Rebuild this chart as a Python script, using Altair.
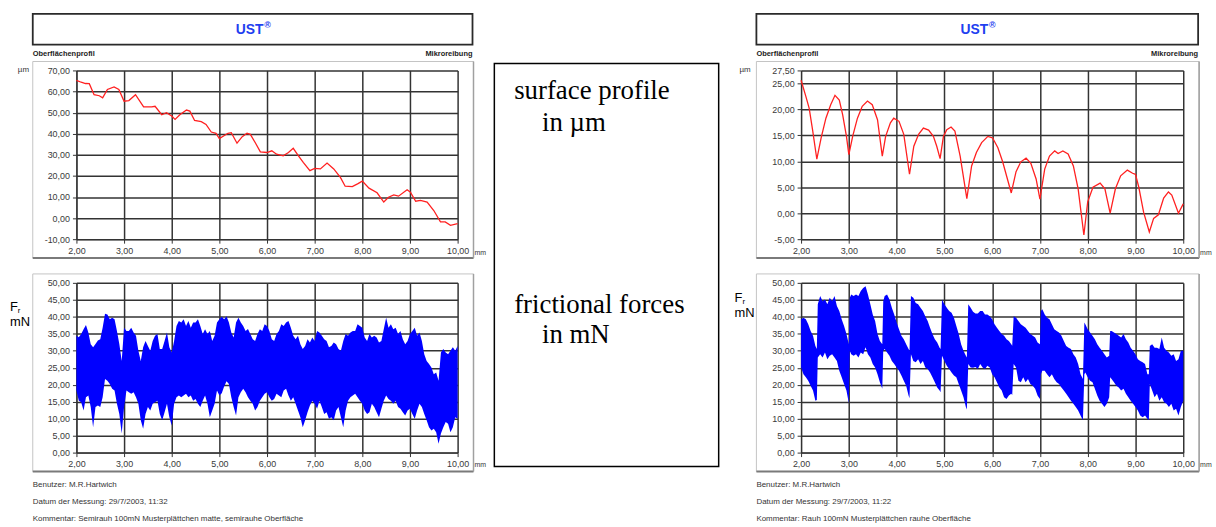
import altair as alt
import pandas as pd

# ---------------- data ----------------
X_TICKS = [2, 3, 4, 5, 6, 7, 8, 9, 10]
LP_TICKS = [-10, 0, 10, 20, 30, 40, 50, 60, 70]
RP_TICKS = [-5, 0, 5, 10, 15, 20, 25, 27.5]
F_TICKS = [0, 5, 10, 15, 20, 25, 30, 35, 40, 45, 50]

# left surface profile (µm)
LP_X = [2.00, 2.10, 2.19, 2.27, 2.37, 2.48, 2.55, 2.65, 2.79, 2.89,
        3.00, 3.10, 3.24, 3.41, 3.58, 3.65, 3.79, 3.89,
        4.00, 4.07, 4.17, 4.31, 4.38, 4.48, 4.62, 4.72, 4.83, 4.93,
        5.00, 5.18, 5.25, 5.37, 5.48, 5.58, 5.65, 5.76, 5.86,
        6.00, 6.10, 6.20, 6.34, 6.45, 6.55, 6.66, 6.76, 6.90,
        7.00, 7.12, 7.26, 7.40, 7.54, 7.64, 7.79, 7.90,
        8.00, 8.14, 8.31, 8.45, 8.55, 8.66, 8.76, 8.94,
        9.01, 9.12, 9.22, 9.36, 9.50, 9.64, 9.74, 9.85, 10.00]
LP_Y = [65.3, 64.4, 63.8, 63.7, 58.5, 58.0, 57.0, 61.0, 62.2, 61.0,
        55.4, 55.7, 58.5, 52.7, 52.7, 53.0, 49.0, 50.0,
        48.4, 46.8, 49.0, 51.2, 50.7, 46.3, 45.7, 44.4, 40.8, 40.2,
        37.7, 40.2, 40.5, 35.5, 38.6, 40.2, 39.7, 35.5, 31.4,
        31.1, 31.9, 30.3, 29.5, 31.1, 33.1, 29.5, 26.4, 22.5,
        23.6, 23.3, 26.1, 23.3, 19.3, 15.1, 14.9, 16.2,
        17.5, 14.2, 12.0, 7.6, 9.9, 11.0, 10.4, 13.4,
        12.3, 8.0, 8.4, 7.6, 3.6, -1.8, -1.8, -3.4, -2.6]

# right surface profile (µm)
RP_X = [2.00, 2.10, 2.17, 2.24, 2.33, 2.42, 2.52, 2.62, 2.71, 2.80, 2.87, 2.95,
        3.00, 3.08, 3.18, 3.28, 3.39, 3.49, 3.60, 3.70, 3.77, 3.87, 3.94,
        4.05, 4.15, 4.27, 4.36, 4.46, 4.56, 4.67, 4.77, 4.84, 4.91, 4.98,
        5.05, 5.14, 5.22, 5.33, 5.47, 5.57, 5.67, 5.78, 5.91,
        6.01, 6.12, 6.22, 6.40, 6.50, 6.60, 6.71, 6.81, 6.92,
        7.00, 7.10, 7.20, 7.31, 7.38, 7.48, 7.59, 7.70, 7.80, 7.92,
        8.00, 8.11, 8.26, 8.36, 8.47, 8.58, 8.69, 8.83, 8.94,
        9.00, 9.07, 9.17, 9.29, 9.38, 9.48, 9.59, 9.69, 9.76, 9.90, 10.00]
RP_Y = [25.6, 22.5, 20.2, 16.1, 10.4, 14.5, 18.3, 20.9, 22.7, 21.8, 19.0, 14.8,
        11.3, 14.8, 18.3, 20.6, 21.6, 20.9, 18.0, 11.0, 14.8, 17.4, 18.3,
        17.7, 15.2, 7.5, 12.9, 15.2, 16.4, 16.0, 14.8, 12.9, 10.5, 14.8,
        16.1, 16.6, 15.8, 11.0, 2.8, 9.1, 11.7, 13.6, 14.8,
        14.5, 12.6, 9.9, 3.9, 8.0, 9.9, 10.6, 9.6, 6.6,
        2.7, 8.5, 11.0, 12.0, 11.5, 12.0, 11.4, 9.1, 4.7, -4.2,
        2.2, 5.0, 5.8, 4.7, 0.0, 4.7, 7.2, 8.3, 7.7,
        7.5, 5.0, 0.2, -3.6, -1.0, -0.3, 2.9, 4.1, 3.5, 0.0, 1.8]

# left frictional force envelope (mN)
LF_X = [2.00, 2.05, 2.10, 2.15, 2.20, 2.25, 2.30, 2.35, 2.40, 2.45,
        2.50, 2.55, 2.60, 2.65, 2.70, 2.75, 2.80, 2.85, 2.90, 2.95,
        3.00, 3.05, 3.10, 3.15, 3.20, 3.25, 3.30, 3.35, 3.40, 3.45,
        3.50, 3.55, 3.60, 3.65, 3.70, 3.75, 3.80, 3.85, 3.90, 3.95,
        4.00, 4.05, 4.10, 4.15, 4.20, 4.25, 4.30, 4.35, 4.40, 4.45,
        4.50, 4.55, 4.60, 4.65, 4.70, 4.75, 4.80, 4.85, 4.90, 4.95,
        5.00, 5.05, 5.10, 5.15, 5.20, 5.25, 5.30, 5.35, 5.40, 5.45,
        5.50, 5.55, 5.60, 5.65, 5.70, 5.75, 5.80, 5.85, 5.90, 5.95,
        6.00, 6.05, 6.10, 6.15, 6.20, 6.25, 6.30, 6.35, 6.40, 6.45,
        6.50, 6.55, 6.60, 6.65, 6.70, 6.75, 6.80, 6.85, 6.90, 6.95,
        7.00, 7.05, 7.10, 7.15, 7.20, 7.25, 7.30, 7.35, 7.40, 7.45,
        7.50, 7.55, 7.60, 7.65, 7.70, 7.75, 7.80, 7.85, 7.90, 7.95,
        8.00, 8.05, 8.10, 8.15, 8.20, 8.25, 8.30, 8.35, 8.40, 8.45,
        8.50, 8.55, 8.60, 8.65, 8.70, 8.75, 8.80, 8.85, 8.90, 8.95,
        9.00, 9.05, 9.10, 9.15, 9.20, 9.25, 9.30, 9.35, 9.40, 9.45,
        9.50, 9.55, 9.60, 9.65, 9.70, 9.75, 9.80, 9.85, 9.90, 9.95,
        10.00]
LF_HI = [34.4, 34.0, 34.9, 36.3, 37.6, 35.4, 31.9, 31.0, 32.0, 33.0,
         33.4, 36.8, 40.9, 40.7, 39.3, 39.7, 39.3, 35.8, 32.0, 27.0,
         36.8, 35.8, 35.8, 36.8, 35.4, 34.4, 30.0, 27.0, 31.0, 32.9,
         31.4, 30.0, 32.9, 34.4, 34.9, 30.5, 30.5, 32.9, 35.4, 31.0,
         29.5, 32.9, 37.3, 38.8, 38.3, 39.3, 37.3, 38.8, 36.8, 38.3,
         38.3, 39.3, 37.3, 34.9, 36.3, 34.9, 35.8, 32.9, 34.4, 38.3,
         39.3, 40.0, 39.3, 40.2, 38.3, 35.4, 33.9, 38.3, 39.7, 38.3,
         37.3, 35.8, 36.4, 34.9, 33.4, 32.9, 34.9, 36.3, 35.8, 37.8,
         37.3, 35.8, 33.4, 32.9, 34.9, 35.8, 37.8, 37.3, 38.3, 38.8,
         36.8, 34.4, 33.4, 34.4, 31.9, 30.5, 31.4, 33.4, 32.4, 33.9,
         32.9, 35.8, 35.4, 34.4, 33.4, 32.9, 31.0, 31.4, 32.4, 31.9,
         30.5, 30.0, 32.9, 34.9, 34.4, 35.4, 35.8, 35.8, 37.8, 37.3,
         36.8, 33.9, 32.9, 34.9, 33.9, 34.4, 33.9, 32.4, 32.9, 36.3,
         39.7, 36.8, 37.8, 36.3, 36.8, 34.9, 35.8, 33.4, 31.9, 32.9,
         34.9, 35.8, 36.8, 34.4, 35.4, 32.9, 29.0, 27.0, 26.1, 25.1,
         23.1, 23.6, 21.2, 29.5, 30.5, 29.5, 29.0, 30.0, 31.0, 30.0,
         31.4]
LF_LO = [18.3, 15.3, 14.8, 12.4, 16.3, 16.8, 13.4, 7.5, 13.4, 13.9,
         13.4, 16.3, 21.7, 21.2, 20.2, 18.8, 18.3, 14.4, 11.4, 5.6,
         13.4, 18.3, 17.8, 17.3, 17.8, 16.3, 14.4, 9.5, 7.0, 11.4,
         13.4, 12.4, 14.4, 14.8, 15.3, 11.4, 9.5, 11.9, 14.4, 10.4,
         8.0, 14.4, 16.3, 16.8, 16.3, 16.8, 17.3, 16.3, 16.8, 15.3,
         15.8, 14.4, 13.4, 15.3, 16.8, 14.4, 10.4, 12.4, 14.4, 18.3,
         16.8, 17.5, 19.5, 21.0, 20.2, 16.3, 13.4, 10.9, 16.3, 17.8,
         18.8, 17.8, 16.3, 15.3, 14.4, 12.4, 13.4, 15.3, 16.3, 17.3,
         17.8, 16.3, 15.3, 15.8, 17.3, 16.8, 16.3, 18.3, 18.8, 16.8,
         15.3, 16.3, 14.4, 12.4, 10.4, 7.5, 9.5, 11.9, 13.9, 15.3,
         14.4, 12.9, 15.3, 13.4, 11.4, 11.9, 10.0, 10.4, 9.5, 12.4,
         13.4, 10.4, 7.5, 12.4, 15.3, 16.3, 16.8, 17.3, 16.3, 15.3,
         14.4, 12.4, 11.4, 11.9, 14.4, 13.4, 11.9, 10.4, 12.9, 15.3,
         16.8, 15.8, 15.3, 14.4, 15.3, 13.4, 12.9, 11.9, 10.9, 12.4,
         12.9, 11.4, 10.0, 12.4, 14.4, 13.4, 11.4, 9.5, 7.5, 6.5,
         7.0, 6.0, 2.6, 5.6, 7.5, 9.0, 8.5, 6.0, 7.5, 10.4,
         10.0]

# right frictional force envelope (mN)
RF_X = [2.00, 2.05, 2.10, 2.15, 2.20, 2.25, 2.30, 2.33, 2.35, 2.40,
        2.45, 2.50, 2.55, 2.60, 2.65, 2.70, 2.75, 2.80, 2.85, 2.90,
        2.95, 3.00, 3.02, 3.05, 3.10, 3.15, 3.20, 3.25, 3.30, 3.35,
        3.40, 3.45, 3.50, 3.55, 3.60, 3.65, 3.70, 3.72, 3.75, 3.80,
        3.85, 3.90, 3.95, 4.00, 4.05, 4.10, 4.15, 4.20, 4.25, 4.27,
        4.30, 4.35, 4.40, 4.45, 4.50, 4.55, 4.60, 4.65, 4.70, 4.75,
        4.80, 4.85, 4.90, 4.92, 4.95, 5.00, 5.05, 5.10, 5.15, 5.20,
        5.25, 5.30, 5.35, 5.40, 5.45, 5.47, 5.50, 5.55, 5.60, 5.65,
        5.70, 5.75, 5.80, 5.85, 5.90, 5.95, 6.00, 6.05, 6.10, 6.15,
        6.20, 6.25, 6.30, 6.35, 6.40, 6.42, 6.45, 6.50, 6.55, 6.60,
        6.65, 6.70, 6.75, 6.80, 6.85, 6.90, 6.95, 7.00, 7.02, 7.05,
        7.10, 7.15, 7.20, 7.25, 7.30, 7.35, 7.40, 7.45, 7.50, 7.55,
        7.60, 7.65, 7.70, 7.75, 7.80, 7.85, 7.90, 7.93, 7.95, 8.00,
        8.05, 8.10, 8.15, 8.20, 8.25, 8.30, 8.35, 8.40, 8.45, 8.47,
        8.50, 8.55, 8.60, 8.65, 8.70, 8.75, 8.80, 8.85, 8.90, 8.95,
        9.00, 9.05, 9.10, 9.15, 9.20, 9.25, 9.28, 9.30, 9.35, 9.40,
        9.45, 9.50, 9.55, 9.60, 9.65, 9.70, 9.75, 9.80, 9.85, 9.90,
        9.95, 10.00]
RF_HI = [39.3, 39.7, 39.3, 37.8, 35.8, 34.4, 31.4, 30.5, 43.7, 46.1,
         44.6, 45.1, 43.7, 45.6, 44.6, 46.1, 43.2, 41.7, 39.3, 37.3,
         34.9, 31.9, 45.6, 46.6, 46.1, 46.6, 46.1, 47.6, 48.5, 49.0,
         46.6, 43.7, 40.7, 38.8, 34.9, 32.9, 31.9, 44.6, 46.1, 46.6,
         45.1, 42.7, 40.7, 38.3, 36.3, 34.4, 33.4, 31.9, 30.5, 30.0,
         46.1, 45.6, 44.1, 43.7, 42.7, 41.7, 40.2, 38.8, 36.8, 34.9,
         33.4, 32.4, 30.9, 30.5, 45.1, 43.7, 42.7, 41.7, 41.2, 39.7,
         37.3, 34.9, 31.9, 30.0, 28.5, 28.0, 43.7, 42.7, 41.5, 41.0,
         41.0, 41.7, 41.7, 40.7, 40.7, 40.2, 39.3, 37.8, 36.8, 35.8,
         34.9, 34.4, 33.4, 32.9, 31.9, 31.5, 40.2, 39.7, 38.8, 37.8,
         37.3, 36.8, 35.8, 34.9, 34.4, 33.9, 32.4, 31.9, 41.7, 42.2,
         40.7, 39.7, 39.3, 37.8, 36.3, 35.8, 35.4, 34.4, 32.9, 31.4,
         30.9, 30.5, 29.0, 28.0, 26.1, 23.1, 21.7, 38.3, 37.8, 36.3,
         35.4, 34.4, 33.4, 31.9, 30.9, 30.0, 29.0, 28.0, 28.5, 35.8,
         35.8, 35.4, 34.9, 34.4, 33.9, 34.9, 33.4, 32.4, 30.9, 30.0,
         29.0, 27.5, 27.0, 26.6, 26.1, 23.1, 23.1, 31.4, 31.9, 30.9,
         30.9, 30.5, 33.9, 30.9, 30.0, 29.5, 28.5, 29.0, 27.0, 27.5,
         30.0, 30.0]
RF_LO = [25.1, 23.1, 22.2, 21.2, 19.7, 18.3, 15.3, 15.5, 28.0, 29.0,
         28.0, 29.5, 27.5, 28.5, 29.0, 28.0, 27.0, 24.1, 22.2, 20.2,
         18.3, 14.5, 30.0, 29.0, 28.5, 29.0, 28.0, 29.5, 29.0, 31.0,
         29.0, 28.0, 26.1, 25.1, 23.1, 20.7, 18.8, 30.0, 30.5, 29.5,
         28.5, 27.0, 26.1, 25.1, 24.1, 22.7, 21.2, 19.7, 16.8, 16.0,
         29.0, 27.0, 26.6, 27.5, 26.1, 27.0, 25.1, 24.6, 23.6, 22.2,
         20.7, 19.2, 18.3, 17.8, 28.5, 27.0, 25.6, 24.6, 23.6, 22.7,
         22.2, 20.2, 18.3, 16.3, 13.4, 12.7, 26.1, 25.1, 25.0, 25.2,
         24.6, 26.1, 25.1, 24.6, 25.6, 25.1, 23.1, 22.2, 20.7, 19.2,
         18.3, 16.3, 15.8, 16.8, 17.3, 17.0, 26.1, 25.1, 21.2, 20.7,
         22.2, 20.7, 21.7, 20.2, 19.7, 18.8, 16.8, 15.8, 23.1, 24.1,
         24.1, 23.1, 22.2, 23.1, 21.7, 20.7, 20.2, 19.2, 18.3, 17.3,
         16.3, 15.3, 14.4, 13.4, 12.4, 10.9, 9.5, 23.1, 23.6, 22.2,
         21.2, 20.7, 18.8, 16.8, 15.3, 14.4, 13.4, 14.4, 16.3, 22.2,
         21.7, 20.7, 19.7, 19.2, 18.3, 18.8, 17.3, 16.3, 15.3, 14.4,
         13.4, 12.4, 10.9, 10.4, 10.9, 10.0, 9.5, 20.2, 18.3, 16.3,
         17.3, 15.3, 16.3, 14.8, 14.4, 13.4, 14.4, 12.4, 12.9, 10.9,
         13.4, 15.3]

# texts
TITLE = "UST"
REG = "®"
HEAD_LEFT = "Oberflächenprofil"
HEAD_RIGHT = "Mikroreibung"
UNIT_PROFILE = "µm"
UNIT_X = "mm"
FOOT_L = ["Benutzer: M.R.Hartwich",
          "Datum der Messung: 29/7/2003, 11:32",
          "Kommentar: Semirauh 100mN Musterplättchen matte, semirauhe Oberfläche"]
FOOT_R = ["Benutzer: M.R.Hartwich",
          "Datum der Messung: 29/7/2003, 11:22",
          "Kommentar: Rauh 100mN Musterplättchen rauhe Oberfläche"]
MID_TEXT = ["surface profile", "in µm", "frictional forces", "in mN"]

# ---------------- styling helpers ----------------
ONE = pd.DataFrame({"k": [0]})
SANS = "Liberation Sans"
SERIF = "Liberation Serif"
LABEL_EXPR = "replace(replace(format(datum.value, '.2f'), '.', ','), '\u2212', '-')"
GRID = "#333333"
LBL = "#3a3a3a"


def txt(s, px, py, o, size=8, color="#333333", align="left", bold=False, font=SANS):
    return alt.Chart(ONE).mark_text(
        text=s, align=align, baseline="middle", font=font, fontSize=size,
        color=color, fontWeight="bold" if bold else "normal"
    ).encode(x=alt.value(px - o[0]), y=alt.value(py - o[1]))


def box(x1, y1, x2, y2, o, stroke="#000000", sw=1.0, hidden=False):
    if hidden:
        m = alt.Chart(ONE).mark_rect(color="#ffffff", opacity=0)
    else:
        m = alt.Chart(ONE).mark_rect(fill="#ffffff", fillOpacity=0, stroke=stroke, strokeWidth=sw)
    return m.encode(x=alt.value(x1 - o[0]), x2=alt.value(x2 - o[0]),
                    y=alt.value(y1 - o[1]), y2=alt.value(y2 - o[1]))


def rule(x1, y1, x2, y2, o, color="#808080", sw=1.0):
    return alt.Chart(ONE).mark_rule(color=color, strokeWidth=sw).encode(
        x=alt.value(x1 - o[0]), x2=alt.value(x2 - o[0]),
        y=alt.value(y1 - o[1]), y2=alt.value(y2 - o[1]))


def xaxis():
    return alt.Axis(title=None, values=X_TICKS, labelExpr=LABEL_EXPR, grid=True,
                    gridColor=GRID, gridWidth=1.5, domainColor="#333333", tickColor="#333333",
                    tickSize=4, labelFont=SANS, labelFontSize=9, labelColor=LBL,
                    labelPadding=3, labelFlush=False, labelOverlap=False)


def yaxis(ticks):
    return alt.Axis(title=None, values=ticks, labelExpr=LABEL_EXPR, grid=True,
                    gridColor=GRID, gridWidth=1.5, domainColor="#333333", tickColor="#333333",
                    tickSize=4, labelFont=SANS, labelFontSize=9, labelColor=LBL,
                    labelPadding=3, labelFlush=False, labelOverlap=False)


XS = alt.Scale(domain=[2, 10], nice=False, zero=False)


def frame(x1, y1, x2, y2, o):
    return [box(x1, y1, x2, y2, o, stroke="#c4c4c4", sw=1),
            rule(x1, y2, x2, y2, o, color="#7a7a7a", sw=2),
            rule(x2, y1, x2, y2, o, color="#a0a0a0", sw=1.5)]


def profile_panel(xs, ys, ticks, dom, o, w, region, hx1, hx2, umx):
    rx1, rx2 = region
    cx = (hx1 + hx2) / 2 - 3
    layers = [box(rx1, 0, rx2, 262, o, hidden=True),
              box(hx1, 12, hx2, 43, o, stroke="#2a2a2a", sw=1.8),
              txt(TITLE, cx, 28, o, size=14, color="#1f3ff0", align="center", bold=True),
              txt(REG, cx + 18, 23, o, size=9, color="#1f3ff0", align="center", bold=True),
              txt(HEAD_LEFT, hx1, 52, o, size=7.5, color="#222222", bold=True),
              txt(HEAD_RIGHT, hx2, 52, o, size=7.5, color="#222222", align="right", bold=True)]
    layers += frame(hx1, 60, hx2 + 1, 258, o)
    layers += [txt(UNIT_PROFILE, umx, 69, o, size=8),
               txt(UNIT_X, o[0] + w + 17, 253, o, size=7)]
    df = pd.DataFrame({"x": xs, "y": ys})
    line = alt.Chart(df).mark_line(color="#ff2020", strokeWidth=1.3).encode(
        x=alt.X("x:Q", scale=XS, axis=xaxis()),
        y=alt.Y("y:Q", scale=alt.Scale(domain=dom, nice=False, zero=False), axis=yaxis(ticks)))
    return alt.layer(*layers, line).properties(width=w, height=170)


def force_panel(xs, hi, lo, o, w, region, hx1, hx2, fx, fy, foot):
    rx1, rx2 = region
    layers = [box(rx1, 262, rx2, 527, o, hidden=True)]
    layers += frame(hx1, 274, hx2 + 1, 473, o)
    layers += [txt("F", fx, fy, o, size=13, color="#000000"),
               txt("r", fx + 8, fy + 4, o, size=8, color="#000000"),
               txt("mN", fx, fy + 15, o, size=13, color="#000000"),
               txt(UNIT_X, o[0] + w + 17, 467, o, size=7)]
    for i, s in enumerate(foot):
        layers.append(txt(s, hx1, 487 + 17 * i, o, size=8, color="#333333"))
    df = pd.DataFrame({"x": xs, "hi": hi, "lo": lo})
    area = alt.Chart(df).mark_area(color="#0000ff", opacity=1, line=False).encode(
        x=alt.X("x:Q", scale=XS, axis=xaxis()),
        y=alt.Y("hi:Q", scale=alt.Scale(domain=[0, 50], nice=False, zero=False), axis=yaxis(F_TICKS)),
        y2="lo:Q")
    return alt.layer(*layers, area).properties(width=w, height=171)


# ---------------- panels ----------------
L_OP = (77, 69)
L_OF = (77, 283)
R_OP = (798, 69)
R_OF = (798, 283)
M_O = (490, 69)   # same vertical origin as the profile panels (grid aligns origins)

left = alt.vconcat(
    profile_panel(LP_X, LP_Y, LP_TICKS, [-10, 70], L_OP, 384, (0, 490), 33, 476, 18),
    force_panel(LF_X, LF_HI, LF_LO, L_OF, 384, (0, 490), 33, 476, 10, 307, FOOT_L),
    spacing=0)

right = alt.vconcat(
    profile_panel(RP_X, RP_Y, RP_TICKS, [-5, 27.5], R_OP, 385, (740, 1216), 753, 1198, 736),
    force_panel(RF_X, RF_HI, RF_LO, R_OF, 385, (740, 1216), 753, 1198, 731, 298, FOOT_R),
    spacing=0)

mid_layers = [box(490, 0, 740, 527, M_O, hidden=True),
              box(498, 62, 724, 468, M_O, stroke="#000000", sw=1.5),
              txt(MID_TEXT[0], 518, 90, M_O, size=27, color="#000000", font=SERIF),
              txt(MID_TEXT[1], 546, 122, M_O, size=27, color="#000000", font=SERIF),
              txt(MID_TEXT[2], 518, 305, M_O, size=27, color="#000000", font=SERIF),
              txt(MID_TEXT[3], 546, 336, M_O, size=27, color="#000000", font=SERIF)]
middle = alt.layer(*mid_layers).properties(width=250, height=170)

chart = alt.hconcat(left, middle, right, spacing=0).properties(
    padding=0, background="#ffffff"
).configure_view(strokeWidth=0)

chart.save("out.html", embed_options={"renderer": "svg", "actions": False})
